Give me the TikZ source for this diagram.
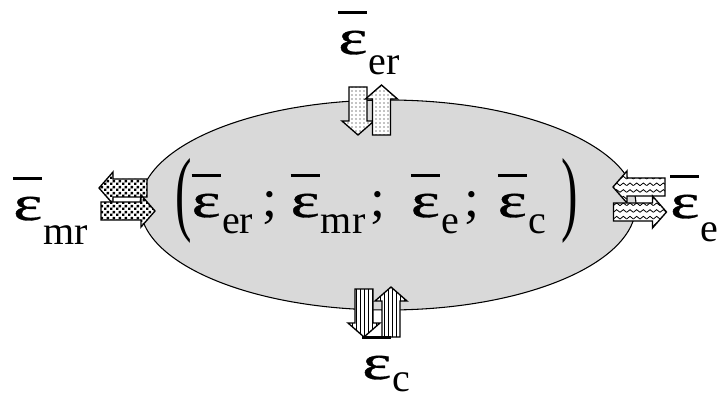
\documentclass[tikz,border=0pt]{standalone}
\usepackage{fontspec}
\setmainfont{Liberation Serif}
\newfontfamily\epsfont[FakeBold=0.6]{Liberation Serif}
\usepackage{graphicx}
\usetikzlibrary{shapes.geometric, patterns}
\definecolor{ellipsegray}{RGB}{217, 217, 217}

% fill patterns of the exchange arrows
\pgfdeclarepatternformonly{squaredots}{\pgfpointorigin}{\pgfqpoint{4.6pt}{4.6pt}}{\pgfqpoint{4.6pt}{4.6pt}}{%
  \pgfpathrectangle{\pgfpointorigin}{\pgfqpoint{2pt}{2pt}}%
  \pgfpathrectangle{\pgfqpoint{2.3pt}{2.3pt}}{\pgfqpoint{2pt}{2pt}}%
  \pgfusepath{fill}}
\pgfdeclarepatternformonly{zigzag}{\pgfqpoint{0pt}{-0.5pt}}{\pgfqpoint{5pt}{2.5pt}}{\pgfqpoint{5pt}{5pt}}{%
  \pgfsetlinewidth{0.6pt}%
  \pgfpathmoveto{\pgfqpoint{0pt}{0pt}}%
  \pgfpathlineto{\pgfqpoint{2.5pt}{2pt}}%
  \pgfpathlineto{\pgfqpoint{5pt}{0pt}}%
  \pgfusepath{stroke}}

\newsavebox\epsbox
\newcommand{\mainsize}{\fontsize{37}{40}\selectfont}
\newcommand{\subsize}{\fontsize{30}{32}\selectfont}
\newcommand{\semi}{{\fontsize{40}{42}\selectfont ;}}
\newcommand{\epsbar}{\sbox\epsbox{\scalebox{1.4}[1]{\epsfont ε}}\rlap{\rule[0.82em]{\wd\epsbox}{0.055em}}\usebox\epsbox}
\newcommand{\eps}[2][0.41em]{\epsbar\kern1pt\raisebox{-#1}[\height][0pt]{\subsize #2}}
\newcommand{\bigparen}[1]{\raisebox{-0.13em}{\scalebox{1}[1.9]{#1}}}
% block arrow: style, centre, angle, length
\newcommand{\flowarrow}[4]{%
  \draw[arrowline, #1, shift={#2}, rotate=#3]
    (-#4/2,-9) -- (#4/2-14,-9) -- (#4/2-14,-16) -- (#4/2,0)
    -- (#4/2-14,16) -- (#4/2-14,9) -- (-#4/2,9) -- cycle;}

\begin{document}
\begin{tikzpicture}[x=0.75pt, y=-0.75pt,
    arrowline/.style={draw, line width=1pt, preaction={fill=white}},
    lbl/.style={anchor=base west, inner sep=0pt, font=\mainsize}]
    \useasboundingbox (0,0) rectangle (725,399);

    \node[ellipse, draw, fill=ellipsegray, line width=0.8pt, inner sep=0pt,
          minimum width=372pt, minimum height=157.5pt] (system) at (388,205) {};

    % top
    \flowarrow{pattern=dots}{(358,111)}{-90}{48}
    \flowarrow{pattern=dots}{(381.5,110)}{90}{50}
    % bottom
    \flowarrow{pattern=vertical lines}{(364,313)}{-90}{48}
    \flowarrow{pattern=vertical lines}{(391,312)}{90}{50}
    % left
    \flowarrow{pattern=squaredots}{(123,188)}{180}{48}
    \flowarrow{pattern=squaredots}{(128,211)}{0}{54}
    % right
    \flowarrow{pattern=zigzag}{(639,187)}{180}{52}
    \flowarrow{pattern=zigzag}{(640,212)}{0}{53}

    \node[lbl] (state) at (175,217)
        {\bigparen{(}\eps[0.33em]{er}\hspace{7pt}\semi\hspace{10pt}\eps[0.33em]{mr}\hspace{4pt}\semi\hspace{19pt}\eps[0.33em]{e}\hspace{4pt}\semi\hspace{14pt}\eps[0.33em]{c}\hspace{12pt}\bigparen{)}};

    \node[lbl] (erlab) at (338,54) {\eps{er}};
    \node[lbl] (mrlab) at (13,220) {\eps[0.5em]{mr}};
    \node[lbl] (elab) at (670,218) {\eps[0.47em]{e}};
    \node[lbl] (clab) at (362,379) {\eps[0.26em]{c}};
\end{tikzpicture}
\end{document}
